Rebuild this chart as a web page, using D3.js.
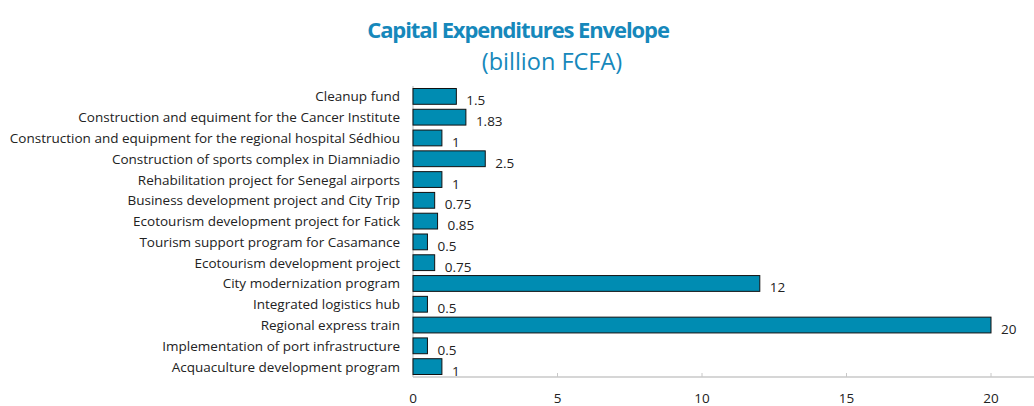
<!DOCTYPE html>
<html>
<head>
<meta charset="utf-8">
<script src="https://cdn.jsdelivr.net/npm/d3@7"></script>
<style>
  body { margin: 0; background: #fff; }
  text { font-family: "Open Sans", "Noto Sans", sans-serif; }
</style>
</head>
<body>
<svg id="chart" width="1034" height="406"></svg>
<script>
var categories = [
  "Cleanup fund",
  "Construction and equiment for the Cancer Institute",
  "Construction and equipment for the regional hospital Sédhiou",
  "Construction of sports complex in Diamniadio",
  "Rehabilitation project for Senegal airports",
  "Business development project and City Trip",
  "Ecotourism development project for Fatick",
  "Tourism support program for Casamance",
  "Ecotourism development project",
  "City modernization program",
  "Integrated logistics hub",
  "Regional express train",
  "Implementation of port infrastructure",
  "Acquaculture development program"
];
var values = [1.5, 1.83, 1, 2.5, 1, 0.75, 0.85, 0.5, 0.75, 12, 0.5, 20, 0.5, 1];
var valueLabels = ["1.5", "1.83", "1", "2.5", "1", "0.75", "0.85", "0.5", "0.75", "12", "0.5", "20", "0.5", "1"];
var xTicks = [0, 5, 10, 15, 20];

var margin = {l: 413, t: 86, r: 0, b: 29};
var svg = d3.select("#chart");
var W = 1034, H = 406;
var plotH = H - margin.t - margin.b;

var x = d3.scaleLinear().domain([0, 20]).range([margin.l, 991]);
var y = d3.scaleBand().domain(categories).range([margin.t, margin.t + plotH]).paddingInner(0.24).paddingOuter(0.12);

// title
svg.append("text")
  .attr("x", 518).attr("y", 38)
  .attr("text-anchor", "middle")
  .attr("font-size", 22).attr("font-weight", "bold")
  .attr("fill", "#1688bb")
  .attr("letter-spacing", "-1.1")
  .text("Capital Expenditures Envelope");
svg.append("text")
  .attr("x", 552).attr("y", 70)
  .attr("text-anchor", "middle")
  .attr("font-size", 23.5)
  .attr("fill", "#1688bb")
  .text("(billion FCFA)");

// x axis line + ticks
var axisY = margin.t + plotH;
svg.append("line")
  .attr("x1", margin.l).attr("x2", W)
  .attr("y1", axisY).attr("y2", axisY)
  .attr("stroke", "#c8c8c8").attr("stroke-width", 1.3);
svg.selectAll(".xtick").data(xTicks.slice(1)).enter()
  .append("line")
  .attr("x1", function(d){ return x(d); }).attr("x2", function(d){ return x(d); })
  .attr("y1", axisY - 4).attr("y2", axisY)
  .attr("stroke", "#c8c8c8");
svg.selectAll(".xlabel").data(xTicks).enter()
  .append("text")
  .attr("x", function(d){ return x(d); })
  .attr("y", axisY + 26)
  .attr("text-anchor", "middle")
  .attr("font-size", 13.5).attr("fill", "#222")
  .text(function(d){ return d; });

// y axis line
svg.append("line")
  .attr("x1", margin.l).attr("x2", margin.l)
  .attr("y1", margin.t).attr("y2", axisY)
  .attr("stroke", "#c8c8c8").attr("stroke-width", 1.3);

// bars
svg.selectAll(".bar").data(values).enter()
  .append("rect")
  .attr("x", x(0))
  .attr("y", function(d, i){ return y(categories[i]); })
  .attr("width", function(d){ return x(d) - x(0); })
  .attr("height", y.bandwidth())
  .attr("fill", "#008cb2")
  .attr("stroke", "#111").attr("stroke-width", 1);

// value labels
svg.selectAll(".val").data(values).enter()
  .append("text")
  .attr("x", function(d){ return x(d) + 10; })
  .attr("y", function(d, i){ return y(categories[i]) + y.bandwidth() / 2 + 9; })
  .attr("font-size", 13.5).attr("fill", "#222")
  .text(function(d, i){ return valueLabels[i]; });

// category labels
svg.selectAll(".cat").data(categories).enter()
  .append("text")
  .attr("x", 400)
  .attr("y", function(d){ return y(d) + y.bandwidth() / 2 + 5; })
  .attr("text-anchor", "end")
  .attr("font-size", 13.5).attr("fill", "#222")
  .text(function(d){ return d; });
</script>
</body>
</html>
